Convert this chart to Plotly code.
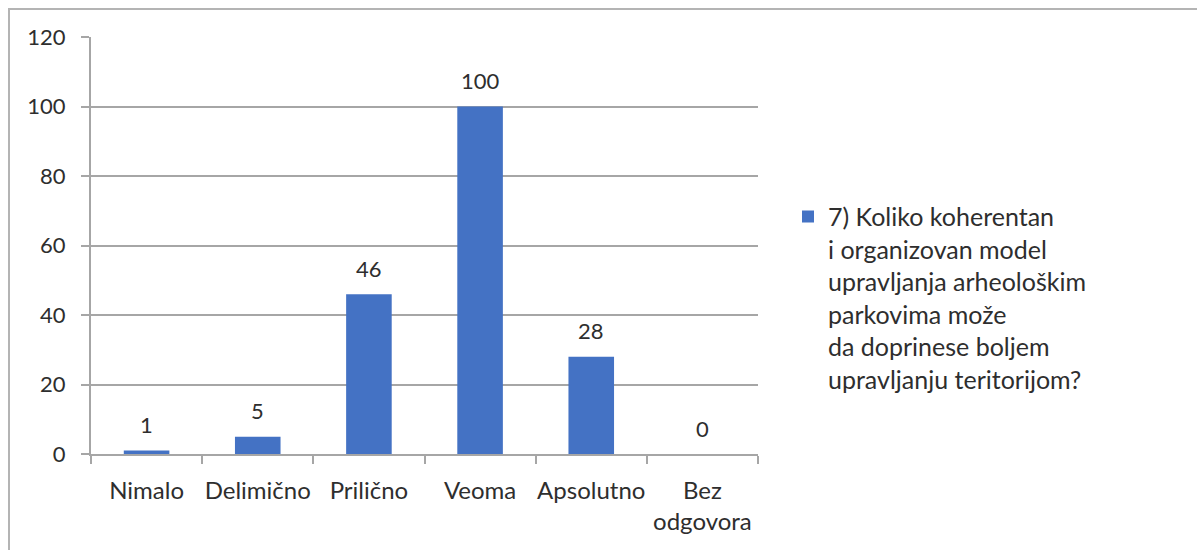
import plotly.graph_objects as go

categories = ["Nimalo", "Delimično", "Prilično", "Veoma", "Apsolutno", "Bez<br>odgovora"]
values = [1, 5, 46, 100, 28, 0]
series_name = ("7) Koliko koherentan<br>i organizovan model<br>upravljanja arheološkim"
               "<br>parkovima može<br>da doprinese boljem<br>upravljanju teritorijom?")
y_ticks = [0, 20, 40, 60, 80, 100, 120]

FONT = "Lato, Carlito, Calibri, sans-serif"
TXT = "#2e2e2e"
GRID = "#a6a6a6"
BLUE = "#4472C4"

fig = go.Figure()
fig.add_trace(go.Bar(
    x=categories, y=values, name=series_name,
    marker=dict(color=BLUE, line=dict(width=0)),
    width=0.41, showlegend=True,
))

for c, v in zip(categories, values):
    fig.add_annotation(x=c, y=v, text=str(v), showarrow=False,
                       yanchor="middle", yshift=26,
                       font=dict(family=FONT, size=22, color=TXT))

W, H = 1197, 550
L, R, T, B = 91, 758, 37, 454.5
pw, ph = R - L, B - T

fig.add_shape(type="rect", xref="paper", yref="paper",
              x0=(9 - L) / pw, x1=(1400 - L) / pw,
              y0=(B - 800) / ph, y1=(B - 9) / ph,
              line=dict(color="#b4b4b4", width=2), fillcolor="rgba(0,0,0,0)",
              layer="below")

fig.update_layout(
    width=W, height=H,
    margin=dict(l=L, r=W - R, t=T, b=H - B, pad=0, autoexpand=False),
    paper_bgcolor="white", plot_bgcolor="white",
    font=dict(family=FONT, size=22, color=TXT),
    bargap=0.59,
    showlegend=True,
    legend=dict(x=(788 - L) / pw, y=(B - 194) / ph, xanchor="left", yanchor="top",
                font=dict(family=FONT, size=25, color=TXT),
                valign="top", bgcolor="rgba(0,0,0,0)", borderwidth=0),
    xaxis=dict(showline=True, linecolor=GRID, linewidth=2, ticks="outside",
               tickson="boundaries", ticklen=8, tickcolor=GRID, tickwidth=2,
               showgrid=False, ticklabelstandoff=14, fixedrange=True,
               tickangle=0, automargin=False,
               tickfont=dict(family=FONT, size=24, color=TXT)),
    yaxis=dict(range=[0, 120], tickvals=y_ticks, showline=True, linecolor=GRID,
               linewidth=2, ticks="outside", ticklen=8, tickcolor=GRID, tickwidth=2,
               showgrid=True, gridcolor=GRID, gridwidth=2, zeroline=False,
               ticklabelstandoff=11, fixedrange=True, automargin=False,
               tickfont=dict(family=FONT, size=22, color=TXT)),
)

fig.write_html("out.html", config={"displayModeBar": False},
               post_script="document.body.style.margin='0';")
